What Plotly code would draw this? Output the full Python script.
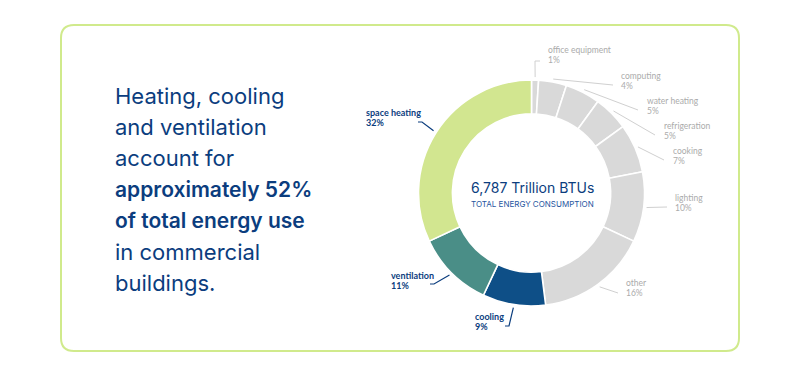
import plotly.graph_objects as go
import math

# ---- data ----
categories = ["office equipment", "computing", "water heating", "refrigeration",
              "cooking", "lighting", "other", "cooling", "ventilation", "space heating"]
shares = [1, 4, 5, 5, 7, 10, 16, 9, 11, 32]
highlight = [False, False, False, False, False, False, False, True, True, True]
total_label = "6,787 Trillion BTUs"
total_sub = "TOTAL ENERGY CONSUMPTION"
headline = [("Heating, cooling", False), ("and ventilation", False), ("account for", False),
            ("approximately 52%", True), ("of total energy use", True),
            ("in commercial", False), ("buildings.", False)]

# ---- styling / layout ----
W, H = 800, 376
OFF = 8  # page body margin
NAVY = "#0b3d7e"
GREY_TXT = "#ababab"
GREY_LINE = "#d0d0d0"
slice_colors = ["#d9d9d9"] * 7 + ["#0e4f87", "#4a8e87", "#d2e690"]

CX, CY, R = 531.5, 193.0, 113.0
HOLE = 0.70

# label anchor (x of text, y of first line), side, leader end point, elbow
label_pos = {
    "office equipment": (546, 50, "left", (540, 61), (535, 61)),
    "computing": (619, 76, "left", (613, 85), None),
    "water heating": (645, 101, "left", (638, 110), None),
    "refrigeration": (662, 126, "left", (655, 135), None),
    "cooking": (671, 151, "left", (664, 160), None),
    "lighting": (673, 198, "left", (667, 207), None),
    "other": (624, 283, "left", (618, 293), None),
    "cooling": (473, 316, "right", (505, 326), (509, 326)),
    "ventilation": (389, 275, "right", (430, 284), (434, 284)),
    "space heating": (364, 112, "right", (418, 122), (422, 122)),
}


def px(x):
    return (x - OFF) / W


def py(y):
    return 1 - (y - OFF) / H


fig = go.Figure()
fig.add_trace(go.Pie(
    labels=categories, values=shares, sort=False, direction="clockwise", rotation=0,
    hole=HOLE, textinfo="none", hoverinfo="label+percent",
    marker=dict(colors=slice_colors, line=dict(color="white", width=1.6)),
    domain=dict(x=[px(CX - R), px(CX + R)], y=[py(CY + R), py(CY - R)]),
    showlegend=False,
))

shapes = []
annotations = []

# border
x0, y0, x1, y1, r = 61, 25, 739, 351, 13
path = (f"M {px(x0+r)},{py(y0)} L {px(x1-r)},{py(y0)} Q {px(x1)},{py(y0)} {px(x1)},{py(y0+r)} "
        f"L {px(x1)},{py(y1-r)} Q {px(x1)},{py(y1)} {px(x1-r)},{py(y1)} "
        f"L {px(x0+r)},{py(y1)} Q {px(x0)},{py(y1)} {px(x0)},{py(y1-r)} "
        f"L {px(x0)},{py(y0+r)} Q {px(x0)},{py(y0)} {px(x0+r)},{py(y0)} Z")
shapes.append(dict(type="path", xref="paper", yref="paper", path=path,
                   line=dict(color="#d0ea8c", width=2), fillcolor="rgba(0,0,0,0)"))

# labels + leader lines computed from slice angles
total = sum(shares)
cum = 0
for cat, v, hl in zip(categories, shares, highlight):
    mid = (cum + v / 2) / total * 2 * math.pi
    cum += v
    sx = CX + (R + 3) * math.sin(mid)
    sy = CY - (R + 3) * math.cos(mid)
    tx, ty, side, end, elbow = label_pos[cat]
    col = NAVY if hl else GREY_TXT
    lcol = NAVY if hl else GREY_LINE
    pts = [(sx, sy)]
    if elbow is not None:
        pts.append(elbow)
    pts.append(end)
    p = "M " + " L ".join(f"{px(a)},{py(b)}" for a, b in pts)
    shapes.append(dict(type="path", xref="paper", yref="paper", path=p,
                       line=dict(color=lcol, width=1.2 if hl else 1)))
    for i, t in enumerate([cat, f"{v}%"]):
        annotations.append(dict(
            x=px(tx), y=py(ty + i * 10), xref="paper", yref="paper",
            text=f"<b>{t}</b>" if hl else t, showarrow=False,
            xanchor="left", yanchor="middle",
            font=dict(family="Lato", size=9 if hl else 8.5, color=col)))

# centre text
annotations.append(dict(x=px(CX + 1), y=py(187), xref="paper", yref="paper", text=total_label,
                        showarrow=False, xanchor="center", yanchor="middle",
                        font=dict(family="Inter", size=14, color=NAVY)))
annotations.append(dict(x=px(CX + 1), y=py(204), xref="paper", yref="paper", text=total_sub,
                        showarrow=False, xanchor="center", yanchor="middle",
                        font=dict(family="Inter", size=8, color="#1f56a0")))

# headline text
for i, (line, bold) in enumerate(headline):
    annotations.append(dict(
        x=px(113), y=py(96 + i * 31.2), xref="paper", yref="paper",
        text=line, showarrow=False,
        xanchor="left", yanchor="middle",
        font=dict(family="Inter", size=21 if bold else 22, color=NAVY,
                  weight=600 if bold else 400)))

fig.update_layout(
    width=W, height=H, margin=dict(l=0, r=0, t=0, b=0),
    paper_bgcolor="white", plot_bgcolor="white",
    shapes=shapes, annotations=annotations,
)
fig.write_html("out.html")
